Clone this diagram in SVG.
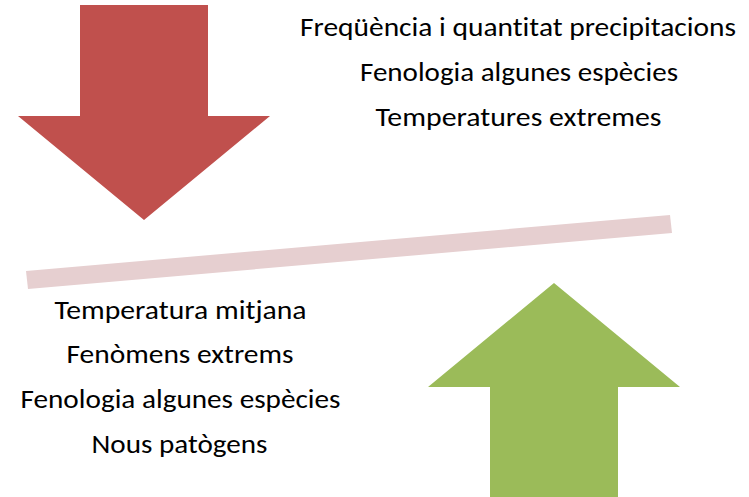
<svg xmlns="http://www.w3.org/2000/svg" width="749" height="497" viewBox="0 0 749 497">
  <style>
    .t { font-family: Carlito, Lato, "Liberation Sans", sans-serif; font-size: 27px; fill: #000; text-anchor: middle; font-variant-ligatures: none; }
  </style>
  <rect x="0" y="0" width="749" height="497" fill="#ffffff"/>
  <g id="down-arrow">
    <polygon points="80,5 208,5 208,116 270,116 144,220 18,116 80,116" fill="#C0504D"/>
  </g>
  <g id="up-arrow">
    <polygon points="554,283 680,387 618,387 618,497 490,497 490,387 428,387" fill="#9BBB59"/>
  </g>
  <g id="connectors">
    <polygon points="26,271 670,215 672,233 28,289" fill="#E6CFD0"/>
  </g>
  <g id="top-text">
    <text class="t" x="518" y="36" textLength="436" lengthAdjust="spacingAndGlyphs">Freqüència i quantitat precipitacions</text>
    <text class="t" x="519" y="81" textLength="318" lengthAdjust="spacingAndGlyphs">Fenologia algunes espècies</text>
    <text class="t" x="518.5" y="126" textLength="286" lengthAdjust="spacingAndGlyphs">Temperatures extremes</text>
  </g>
  <g id="bottom-text">
    <text class="t" x="180.5" y="319" textLength="252" lengthAdjust="spacingAndGlyphs">Temperatura mitjana</text>
    <text class="t" x="180" y="363" textLength="227" lengthAdjust="spacingAndGlyphs">Fenòmens extrems</text>
    <text class="t" x="180.5" y="408" textLength="320" lengthAdjust="spacingAndGlyphs">Fenologia algunes espècies</text>
    <text class="t" x="179.5" y="453" textLength="176" lengthAdjust="spacingAndGlyphs">Nous patògens</text>
  </g>
</svg>
